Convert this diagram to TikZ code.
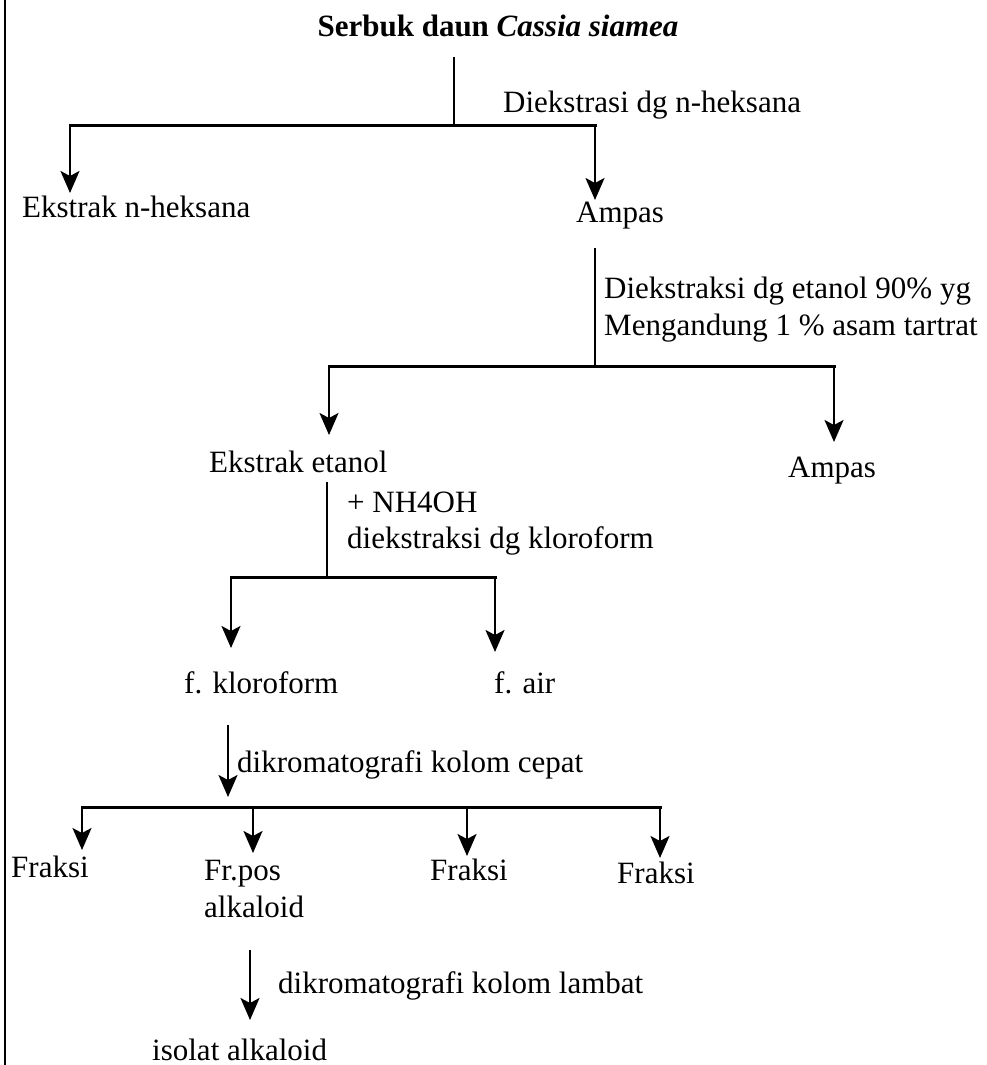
\documentclass[tikz,border=0pt]{standalone}
\usepackage{fontspec}
\setmainfont{Liberation Serif}
\usetikzlibrary{arrows.meta}
\begin{document}
\begin{tikzpicture}[x=1pt,y=-1pt,
  lbl/.style={inner sep=0pt, anchor=base west, font=\fontsize{31}{37}\selectfont},
  vline/.style={line width=2.2pt},
  hline/.style={line width=3pt, line cap=rect},
  arr/.style={line width=2.2pt, -{Stealth[length=22pt,width=19pt,inset=5pt]}}]
\useasboundingbox (0,0) rectangle (987,1065);
% left border
\coordinate (bt) at (5,0);
\coordinate (bb) at (5,1065);
\draw[line width=2.5pt] (bt) -- (bb);

% level 0
\node[lbl, anchor=base] (title) at (498,37) {\bfseries Serbuk daun \textit{Cassia siamea}};
\coordinate (t1) at (454,57);
\coordinate (j1) at (454,125);
\coordinate (j1l) at (70,125);
\coordinate (j1r) at (595,125);
\coordinate (e1) at (70,193);
\coordinate (a1) at (595,200);
\draw[vline] (t1) -- (j1);
\draw[hline] (j1l) -- (j1r);
\draw[arr] (j1l) -- (e1);
\draw[arr] (j1r) -- (a1);
\node[lbl] (lab1) at (503,112) {Diekstrasi dg n-heksana};
\node[lbl] (ekh) at (22,217) {Ekstrak n-heksana};
\node[lbl] (amp1) at (576,222) {Ampas};

% level 1
\coordinate (t2) at (595,248);
\coordinate (j2l) at (329,366);
\coordinate (j2r) at (834,366);
\coordinate (e2) at (329,435);
\coordinate (a2) at (834,442);
\draw[vline] (t2) -- (t2 |- j2l);
\draw[hline] (j2l) -- (j2r);
\draw[arr] (j2l) -- (e2);
\draw[arr] (j2r) -- (a2);
\node[lbl] (lab2) at (604,298) {Diekstraksi dg etanol 90\% yg};
\node[lbl] (lab2b) at (604,335) {Mengandung 1 \% asam tartrat};
\node[lbl] (eket) at (209,472) {Ekstrak etanol};
\node[lbl] (amp2) at (788,477) {Ampas};

% level 2
\coordinate (t3) at (327,482);
\coordinate (j3) at (327,577);
\coordinate (j3l) at (231,577);
\coordinate (j3r) at (495,577);
\coordinate (fk) at (231,648);
\coordinate (fa) at (495,652);
\draw[vline] (t3) -- (j3);
\draw[hline] (j3l) -- (j3r);
\draw[arr] (j3l) -- (fk);
\draw[arr] (j3r) -- (fa);
\node[lbl] (lab3) at (347,512) {+ NH4OH};
\node[lbl] (lab3b) at (347,548) {diekstraksi dg kloroform};
\node[lbl] (fklor) at (184,693) {f. kloroform};
\node[lbl] (fair) at (494,693) {f. air};

% level 3
\coordinate (t4) at (228,725);
\coordinate (t4e) at (228,797);
\draw[arr] (t4) -- (t4e);
\node[lbl] (lab4) at (237,772) {dikromatografi kolom cepat};
\coordinate (j4l) at (82,807);
\coordinate (j4b) at (253,807);
\coordinate (j4c) at (467,807);
\coordinate (j4r) at (660,807);
\draw[hline] (j4l) -- (j4r);
\coordinate (f1) at (82,850);
\coordinate (f2) at (253,853);
\coordinate (f3) at (467,856);
\coordinate (f4) at (660,858);
\draw[arr] (j4l) -- (f1);
\draw[arr] (j4b) -- (f2);
\draw[arr] (j4c) -- (f3);
\draw[arr] (j4r) -- (f4);
\node[lbl] (fr1) at (11,877) {Fraksi};
\node[lbl, align=left] (frpos) at (204,917) {Fr.pos\\alkaloid};
\node[lbl] (fr3) at (430,880) {Fraksi};
\node[lbl] (fr4) at (617,883) {Fraksi};

% level 4
\coordinate (t5) at (250,950);
\coordinate (t5e) at (250,1020);
\draw[arr] (t5) -- (t5e);
\node[lbl] (lab5) at (278,993) {dikromatografi kolom lambat};
\node[lbl] (iso) at (152,1060) {isolat alkaloid};
\end{tikzpicture}
\end{document}
